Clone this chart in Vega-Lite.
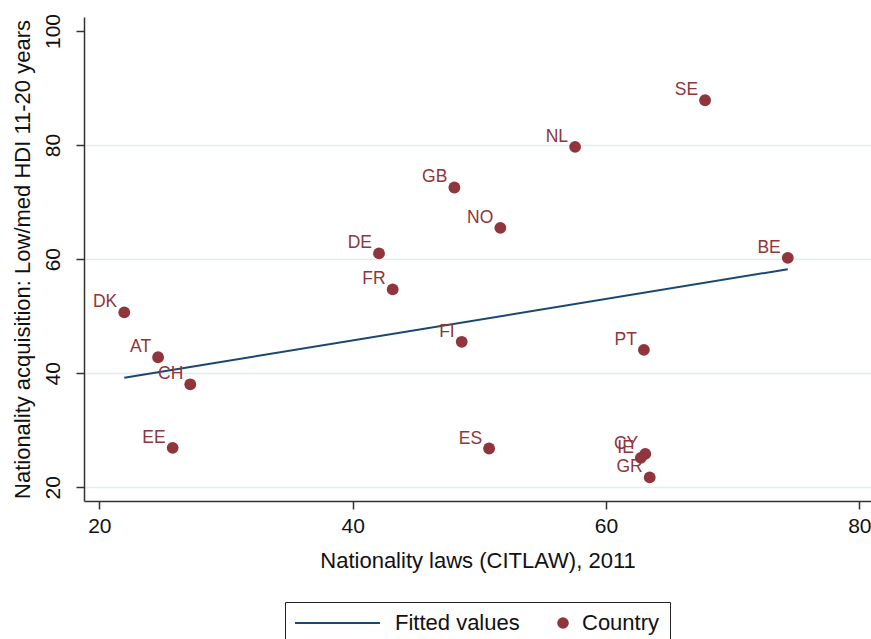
{
  "$schema": "https://vega.github.io/schema/vega-lite/v6.json",
  "width": 787,
  "height": 484,
  "autosize": {"type": "none"},
  "padding": {"left": 84, "top": 17, "right": 0, "bottom": 138},
  "background": "white",
  "config": {
    "view": {"stroke": null},
    "font": "Liberation Sans",
    "axis": {
      "domainColor": "#333333",
      "domainWidth": 1.5,
      "tickColor": "#333333",
      "tickWidth": 1.5,
      "tickSize": 8,
      "labelColor": "#111111",
      "titleColor": "#111111",
      "labelFontSize": 21,
      "titleFontSize": 22,
      "titleFontWeight": "normal",
      "labelFont": "Liberation Sans",
      "titleFont": "Liberation Sans"
    }
  },
  "datasets": {
    "countries": [
      {"code": "DK", "citlaw": 21.97, "acq": 50.66},
      {"code": "AT", "citlaw": 24.64, "acq": 42.8},
      {"code": "CH", "citlaw": 27.18, "acq": 38.06},
      {"code": "EE", "citlaw": 25.79, "acq": 26.92},
      {"code": "DE", "citlaw": 42.08, "acq": 61.0},
      {"code": "FR", "citlaw": 43.16, "acq": 54.69},
      {"code": "GB", "citlaw": 48.03, "acq": 72.56},
      {"code": "NO", "citlaw": 51.66, "acq": 65.48},
      {"code": "FI", "citlaw": 48.61, "acq": 45.51},
      {"code": "ES", "citlaw": 50.77, "acq": 26.8},
      {"code": "NL", "citlaw": 57.56, "acq": 79.67},
      {"code": "SE", "citlaw": 67.82, "acq": 87.85},
      {"code": "BE", "citlaw": 74.35, "acq": 60.22},
      {"code": "PT", "citlaw": 62.99, "acq": 44.1},
      {"code": "CY", "citlaw": 63.1, "acq": 25.85},
      {"code": "IE", "citlaw": 62.75, "acq": 25.15},
      {"code": "GR", "citlaw": 63.45, "acq": 21.75}
    ],
    "fit": [
      {"citlaw": 21.97, "fitted": 39.2},
      {"citlaw": 74.35, "fitted": 58.24}
    ]
  },
  "encoding": {
    "x": {
      "field": "citlaw",
      "type": "quantitative",
      "scale": {"domain": [18.79, 80.92], "nice": false, "zero": false},
      "axis": {
        "title": "Nationality laws (CITLAW), 2011",
        "values": [20, 40, 60, 80],
        "grid": false,
        "labelPadding": 6,
        "titlePadding": 14
      }
    }
  },
  "layer": [
    {
      "data": {"name": "fit"},
      "mark": {"type": "line", "strokeWidth": 2},
      "encoding": {
        "y": {
          "field": "fitted",
          "type": "quantitative",
          "scale": {"domain": [17.6, 102.45], "nice": false, "zero": false},
          "axis": {
            "title": "Nationality acquisition: Low/med HDI 11-20 years",
            "values": [20, 40, 60, 80, 100],
            "grid": true,
            "gridColor": "#e3edf0",
            "gridWidth": 1.5,
            "gridOpacity": {"condition": {"test": "datum.value >= 100", "value": 0}, "value": 1},
            "labelAngle": -90,
            "labelAlign": "center",
            "labelBaseline": "bottom",
            "labelPadding": 13,
            "titlePadding": 8
          }
        },
        "color": {
          "datum": "Fitted values",
          "scale": {"domain": ["Fitted values", "Country"], "range": ["#1a476f", "#90353b"]},
          "legend": {
            "title": null,
            "orient": "none",
            "legendX": 201,
            "legendY": 585,
            "direction": "horizontal",
            "symbolType": "stroke",
            "symbolSize": 7225,
            "symbolStrokeWidth": 2,
            "labelFontSize": 22,
            "labelColor": "#111111",
            "labelOffset": 15,
            "columnPadding": 25,
            "padding": 10,
            "strokeColor": "#222222",
            "fillColor": "white",
            "encode": {
              "symbols": {
                "update": {
                  "shape": {"signal": "datum.value === 'Country' ? 'circle' : 'stroke'"},
                  "size": {"signal": "datum.value === 'Country' ? 135 : 7225"},
                  "fill": {"signal": "datum.value === 'Country' ? '#90353b' : 'transparent'"},
                  "stroke": {"signal": "datum.value === 'Country' ? '#90353b' : '#1a476f'"},
                  "strokeWidth": {"signal": "datum.value === 'Country' ? 0 : 2"},
                  "x": {"signal": "datum.value === 'Country' ? 18 : 42.5"}
                }
              },
              "labels": {
                "update": {
                  "dx": {"signal": "datum.value === 'Country' ? 0 : 63"}
                }
              }
            }
          }
        }
      }
    },
    {
      "data": {"name": "countries"},
      "mark": {"type": "point", "filled": true, "size": 140, "opacity": 1},
      "encoding": {
        "y": {"field": "acq", "type": "quantitative"},
        "color": {"datum": "Country"}
      }
    },
    {
      "data": {"name": "countries"},
      "mark": {"type": "text", "align": "right", "baseline": "middle", "dx": -7, "dy": -10, "fontSize": 17.5, "color": "#90353b"},
      "encoding": {
        "y": {"field": "acq", "type": "quantitative"},
        "text": {"field": "code"}
      }
    }
  ]
}
